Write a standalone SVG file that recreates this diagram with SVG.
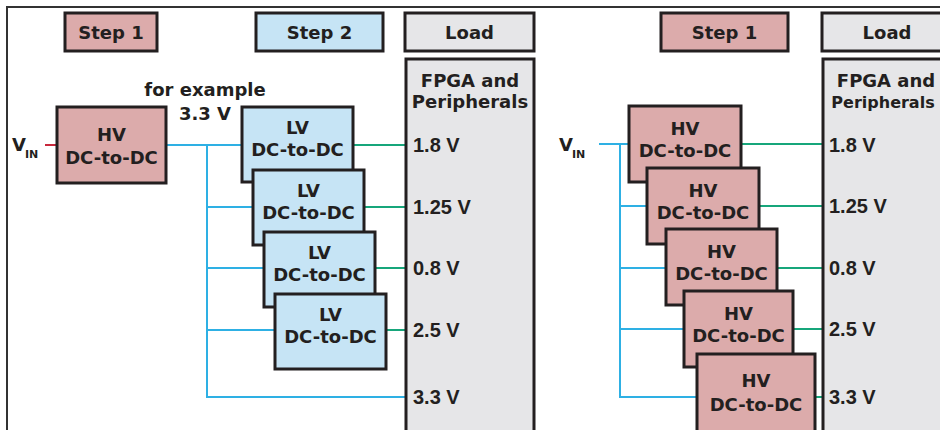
<svg xmlns="http://www.w3.org/2000/svg" width="940" height="430" viewBox="0 0 940 430">
<style>
.t{font-family:"DejaVu Sans","Liberation Sans",sans-serif;font-weight:bold;font-size:18px;fill:#231f20;text-anchor:middle}
.v{font-family:"DejaVu Sans","Liberation Sans",sans-serif;font-weight:bold;font-size:18px;fill:#231f20}
.n{font-family:"Liberation Sans",Arial,sans-serif;font-weight:bold;font-size:20px;fill:#231f20}
.sub{font-family:"DejaVu Sans","Liberation Sans",sans-serif;font-weight:bold;font-size:11px;fill:#231f20}
.pk{fill:#dcabab;stroke:#231f20;stroke-width:3}
.bl{fill:#c6e4f5;stroke:#231f20;stroke-width:3}
.gy{fill:#e6e6e8;stroke:#231f20;stroke-width:3}
.cb{fill:none;stroke:#2eb0e4;stroke-width:2}
.cg{fill:none;stroke:#17a67b;stroke-width:2}
.cr{fill:none;stroke:#c8283c;stroke-width:2}
</style>
<rect width="940" height="430" fill="#ffffff"/>
<path d="M7,432 V7 H942" fill="none" stroke="#333" stroke-width="2"/>

<g id="connectors">
  <path class="cr" d="M45,145 H57"/>
  <path class="cb" d="M166,145 H242 M207,145 V397 H406 M207,207 H253 M207,268 H264 M207,330 H275"/>
  <path class="cg" d="M353,145 H406 M364,207 H406 M375,268 H406 M386,330 H406"/>
  <path class="cb" d="M599,144 H629 M620,144 V397 H697 M620,206 H647 M620,268 H666 M620,329 H684"/>
  <path class="cg" d="M741,144 H823 M759,206 H823 M777,268 H823 M793,329 H823 M815,397 H823"/>
</g>

<g id="step1-left"><rect class="pk" x="65" y="13" width="92" height="38"/><text class="t" x="111" y="39">Step 1</text></g>
<g id="step2"><rect class="bl" x="256" y="13" width="127" height="38"/><text class="t" x="319.5" y="39">Step 2</text></g>
<g id="load-left"><rect class="gy" x="405" y="13" width="129" height="38"/><text class="t" x="469.5" y="39">Load</text></g>

<g id="vin-left"><text class="v" x="12" y="151">V</text><text class="sub" x="25" y="158">IN</text></g>
<g id="hv-left"><rect class="pk" x="57" y="107" width="109" height="76"/><text class="t" x="111.5" y="141">HV</text><text class="t" x="111.5" y="164">DC-to-DC</text></g>
<g id="note"><text class="t" x="205" y="96">for example</text><text class="t" x="205" y="120">3.3 V</text></g>

<g id="lv1"><rect class="bl" x="242" y="107" width="111" height="75"/><text class="t" x="297.5" y="134">LV</text><text class="t" x="297.5" y="156">DC-to-DC</text></g>
<g id="lv2"><rect class="bl" x="253" y="170" width="111" height="75"/><text class="t" x="308.5" y="197">LV</text><text class="t" x="308.5" y="219">DC-to-DC</text></g>
<g id="lv3"><rect class="bl" x="264" y="232" width="111" height="75"/><text class="t" x="319.5" y="259">LV</text><text class="t" x="319.5" y="281">DC-to-DC</text></g>
<g id="lv4"><rect class="bl" x="275" y="294" width="111" height="75"/><text class="t" x="330.5" y="321">LV</text><text class="t" x="330.5" y="343">DC-to-DC</text></g>

<g id="fpga-left"><rect class="gy" x="406" y="59" width="128" height="385"/>
  <text class="t" x="470" y="87">FPGA and</text><text class="t" x="470" y="108">Peripherals</text>
  <text class="n" x="413" y="152">1.8 V</text><text class="n" x="413" y="214">1.25 V</text><text class="n" x="413" y="275">0.8 V</text><text class="n" x="413" y="337">2.5 V</text><text class="n" x="413" y="404">3.3 V</text>
</g>

<g id="step1-right"><rect class="pk" x="661" y="13" width="127" height="38"/><text class="t" x="724.5" y="39">Step 1</text></g>
<g id="load-right"><rect class="gy" x="822" y="13" width="130" height="38"/><text class="t" x="887" y="39">Load</text></g>
<g id="vin-right"><text class="v" x="559" y="151">V</text><text class="sub" x="572" y="158">IN</text></g>

<g id="hv1"><rect class="pk" x="629" y="106" width="112" height="76"/><text class="t" x="685" y="135">HV</text><text class="t" x="685" y="157">DC-to-DC</text></g>
<g id="hv2"><rect class="pk" x="647" y="168" width="112" height="76"/><text class="t" x="703" y="197">HV</text><text class="t" x="703" y="219">DC-to-DC</text></g>
<g id="hv3"><rect class="pk" x="666" y="229" width="111" height="76"/><text class="t" x="721.5" y="258">HV</text><text class="t" x="721.5" y="280">DC-to-DC</text></g>
<g id="hv4"><rect class="pk" x="684" y="291" width="109" height="76"/><text class="t" x="738.5" y="320">HV</text><text class="t" x="738.5" y="342">DC-to-DC</text></g>
<g id="hv5"><rect class="pk" x="697" y="354" width="118" height="84"/><text class="t" x="756" y="387">HV</text><text class="t" x="756" y="411">DC-to-DC</text></g>

<g id="fpga-right"><rect class="gy" x="823" y="59" width="130" height="385"/>
  <text class="t" x="886" y="87">FPGA and</text><text class="t" x="883" y="108" style="font-size:16px">Peripherals</text>
  <text class="n" x="829" y="152">1.8 V</text><text class="n" x="829" y="213">1.25 V</text><text class="n" x="829" y="275">0.8 V</text><text class="n" x="829" y="336">2.5 V</text><text class="n" x="829" y="404">3.3 V</text>
</g>
</svg>
